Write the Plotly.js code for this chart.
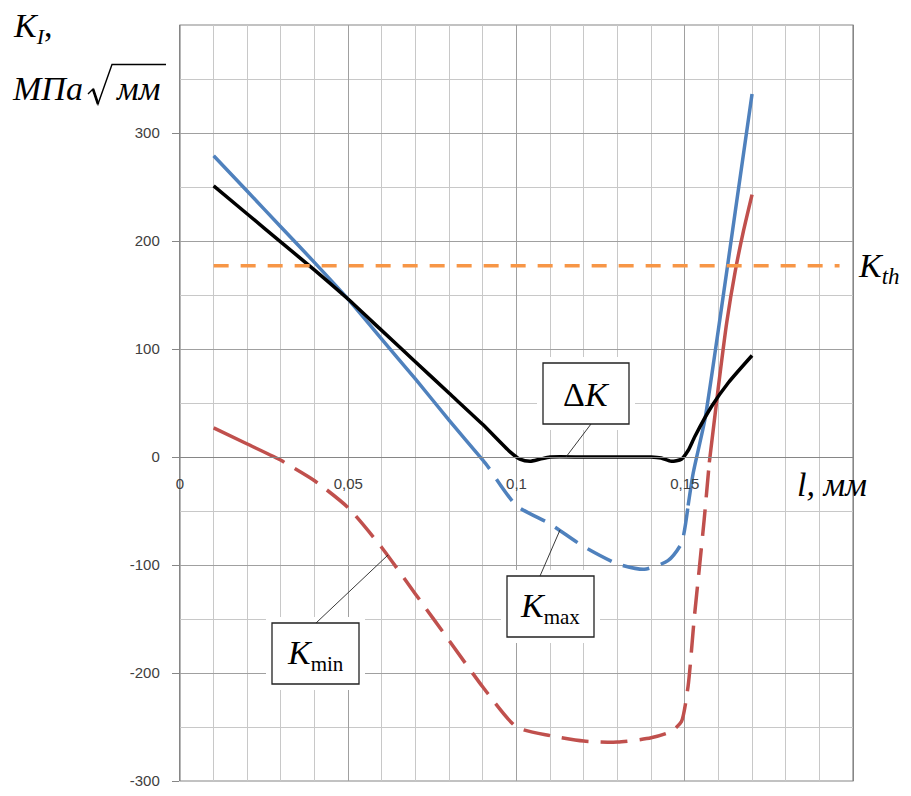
<!DOCTYPE html>
<html>
<head>
<meta charset="utf-8">
<script src="https://cdn.plot.ly/plotly-3.0.1.min.js"></script>
<style>html,body{margin:0;padding:0;background:#fff;}#chart{width:911px;height:796px;}</style>
</head>
<body>
<div id="chart"></div>
<script>
// ---- data (l in mm, K in MPa*sqrt(mm)) ----
const lKmax = [0.01,0.02,0.03,0.04,0.05,0.06,0.07,0.08,0.09,0.092,0.10,0.11,0.12,0.13,0.138,0.145,0.149,0.151,0.1525,0.156,0.16,0.165,0.17];
const kMax  = [279,246,213,180,146,109,72,34,-3,-11,-45,-62,-83,-99,-104,-96,-80,-45,-15,35,118,227,336];
const kMaxDashFrom = 9, kMaxDashTo = 17;

const lKmin = [0.01,0.02,0.03,0.031,0.04,0.05,0.06,0.07,0.08,0.09,0.10,0.11,0.12,0.13,0.14,0.146,0.149,0.151,0.1528,0.1543,0.1558,0.1573,0.16,0.1625,0.165,0.1675,0.17];
const kMin  = [27,12,-3,-5,-22,-47,-84,-127,-170,-213,-250,-258,-263,-264,-260,-254,-245,-212,-150,-104,-57,-5,65,125,172,210,243];
const kMinDashFrom = 3, kMinDashTo = 21;

const lDK = [0.01,0.02,0.03,0.04,0.05,0.06,0.07,0.08,0.09,0.098,0.101,0.104,0.107,0.11,0.12,0.13,0.14,0.143,0.146,0.149,0.151,0.153,0.158,0.163,0.17];
const dK  = [251,225,199,173,146,117,88,59,30,5,-2,-4,-2,0,0,0,0,-1,-4,-2,6,19,47,69,94];

const lKth = [0.01,0.196];
const kTh  = [177,177];

const xTickVals = [0,0.05,0.1,0.15];
const xTickText = ['0','0,05','0,1','0,15'];
const yTickVals = [-300,-200,-100,0,100,200,300];
const yTickText = ['-300','-200','-100','0','100','200','300'];

// ---- layout helpers (pixel -> paper) ----
const PL=180, PT=25, PW=673, PH=756;
const px = x => (x-PL)/PW;
const py = y => (PT+PH-y)/PH;

const BLUE='#4f81bd', RED='#c0504d', ORANGE='#f79646';
const W=3.5;
const LONGDASH='0px,12px,27px,0px';

function seg(xs, ys, a, b){ return {x: xs.slice(a,b+1), y: ys.slice(a,b+1)}; }
function line(s, color, dash){
  return {x:s.x, y:s.y, type:'scatter', mode:'lines', hoverinfo:'skip', showlegend:false,
    line:{color:color, width:W, dash:dash, shape:'spline', smoothing:0.6}};
}

const traces = [
  line(seg(lKmax,kMax,0,kMaxDashFrom), BLUE, 'solid'),
  line(seg(lKmax,kMax,kMaxDashFrom,kMaxDashTo), BLUE, LONGDASH),
  line(seg(lKmax,kMax,kMaxDashTo,lKmax.length-1), BLUE, 'solid'),
  line(seg(lKmin,kMin,0,kMinDashFrom), RED, 'solid'),
  line(seg(lKmin,kMin,kMinDashFrom,kMinDashTo), RED, LONGDASH),
  line(seg(lKmin,kMin,kMinDashTo,lKmin.length-1), RED, 'solid'),
  line({x:lDK,y:dK}, '#000000', 'solid'),
  {x:lKth, y:kTh, type:'scatter', mode:'lines', hoverinfo:'skip', showlegend:false,
   line:{color:ORANGE, width:W, dash:'15px,12px'}}
];

const SERIF = 'Liberation Serif, Times New Roman, serif';
function box(x0,y0,x1,y1){
  return [
    {type:'rect', xref:'paper', yref:'paper', x0:px(x0-6), x1:px(x1+6), y0:py(y0-6), y1:py(y1+6),
     line:{width:0}, fillcolor:'#ffffff', layer:'above'},
    {type:'rect', xref:'paper', yref:'paper', x0:px(x0), x1:px(x1), y0:py(y0), y1:py(y1),
     line:{width:1.3, color:'#222222'}, fillcolor:'#ffffff', layer:'above'}
  ];
}
function leader(x0,y0,x1,y1,w){
  return {type:'line', xref:'paper', yref:'paper', x0:px(x0), y0:py(y0), x1:px(x1), y1:py(y1),
    line:{width:w||0.9, color:'#222222'}, layer:'above'};
}
function pathPx(pts){
  return pts.map((p,i)=>(i?'L':'M')+px(p[0]).toFixed(5)+','+py(p[1]).toFixed(5)).join(' ');
}
const shapes = [
  {type:'rect', xref:'paper', yref:'paper', x0:0, x1:1, y0:0, y1:1, line:{width:1.2,color:'#868686'}, layer:'below'},
  ...box(543,363,629,424), leader(591,424,566,457),
  ...box(507,576,594,637), leader(540,576,560,530),
  ...box(272,623,359,684), leader(316,623,388,555),
  // square-root radical with overline
  {type:'path', xref:'paper', yref:'paper', path:pathPx([[88,94],[93,89],[98,104],[112,64.5],[166,64.5]]),
   line:{width:1.4,color:'#000'}},
  {type:'line', xref:'paper', yref:'paper', x0:px(93), y0:py(89), x1:px(98), y1:py(104), line:{width:2.6,color:'#000'}}
];

function ann(text, x, y, xanchor, size){
  return {text:text, xref:'paper', yref:'paper', x:px(x), y:py(y), xanchor:xanchor||'left', yanchor:'middle',
    showarrow:false, font:{family:SERIF, size:size||34, color:'#000'}};
}
const annotations = [
  ann('<i>K</i><sub><i><span style="font-size:22px">I</span></i></sub>,', 11, 28),
  ann('<i>МПа</i>', 10, 88),
  ann('<i>мм</i>', 114, 88),
  ann('<i>l</i><i>, мм</i>', 795, 484),
  ann('<i>K</i><sub><i><span style="font-size:23px">th</span></i></sub>', 856, 268),
  ann('Δ<i>K</i>', 586, 394, 'center'),
  ann('<i>K</i><sub><span style="font-size:21px">max</span></sub>', 550, 608, 'center'),
  ann('<i>K</i><sub><span style="font-size:21px">min</span></sub>', 315, 655, 'center')
];

const tickFont = {family:'Liberation Sans, Arial, sans-serif', size:15, color:'#404040'};
const layout = {
  width:911, height:796,
  margin:{l:PL, r:911-PL-PW, t:PT, b:796-PT-PH, pad:0},
  paper_bgcolor:'#ffffff', plot_bgcolor:'#ffffff',
  showlegend:false,
  xaxis:{range:[0,0.2], anchor:'free', position:3/7,
    tickmode:'array', tickvals:xTickVals, ticktext:xTickText, tickfont:tickFont,
    ticks:'', ticklabelstandoff:13,
    showgrid:true, gridcolor:'#a0a0a0', gridwidth:1,
    minor:{dtick:0.01, showgrid:true, gridcolor:'#c8c8c8', gridwidth:1},
    showline:true, linecolor:'#868686', linewidth:1.2, zeroline:false, fixedrange:true},
  yaxis:{range:[-300,400], tickmode:'array', tickvals:yTickVals, ticktext:yTickText, tickfont:tickFont,
    ticks:'outside', ticklen:7, tickcolor:'#868686', ticklabelstandoff:9,
    showgrid:true, gridcolor:'#a0a0a0', gridwidth:1,
    minor:{dtick:50, showgrid:true, gridcolor:'#c8c8c8', gridwidth:1},
    showline:true, linecolor:'#868686', linewidth:1.2, mirror:true,
    zeroline:false, fixedrange:true},
  shapes:shapes, annotations:annotations
};
Plotly.newPlot('chart', traces, layout, {displayModeBar:false, staticPlot:true});
</script>
</body>
</html>
